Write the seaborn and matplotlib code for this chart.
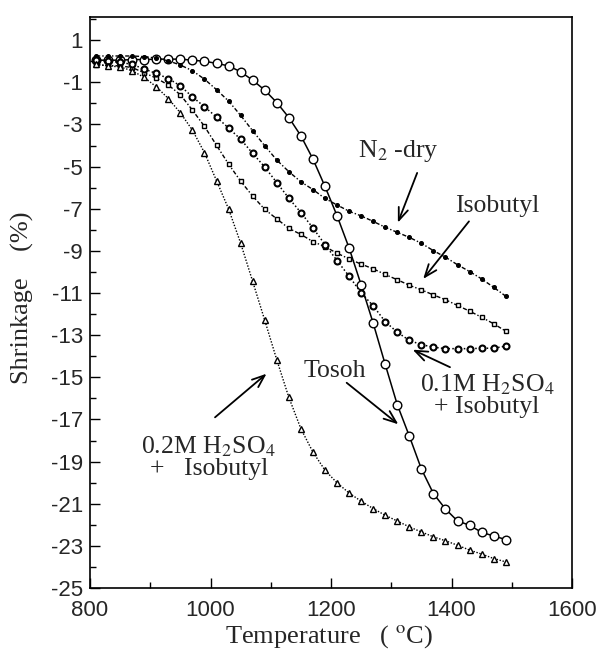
import matplotlib
matplotlib.use("Agg")
import matplotlib.pyplot as plt
import seaborn as sns
import pandas as pd
from matplotlib.ticker import FixedLocator, MultipleLocator

# ---------------- data ----------------
temperature = list(range(810, 1491, 20))

tosoh = [0.05, 0.05, 0.05, 0.08, 0.08, 0.1, 0.1, 0.1, 0.05, 0.0,
         -0.1, -0.22, -0.5, -0.9, -1.37, -1.96, -2.67, -3.54, -4.64, -5.94,
         -7.33, -8.86, -10.61, -12.43, -14.39, -16.30, -17.79, -19.35, -20.52, -21.25,
         -21.82, -22.02, -22.36, -22.53, -22.70]

n2_dry = [0.25, 0.25, 0.25, 0.25, 0.22, 0.15, 0.02, -0.18, -0.45, -0.85,
          -1.35, -1.89, -2.57, -3.30, -4.01, -4.69, -5.24, -5.72, -6.09, -6.51,
          -6.82, -7.12, -7.34, -7.60, -7.88, -8.12, -8.36, -8.64, -8.99, -9.30,
          -9.66, -9.98, -10.33, -10.73, -11.15]

isobutyl = [-0.18, -0.2, -0.22, -0.3, -0.55, -0.8, -1.13, -1.59, -2.32, -3.09,
            -3.99, -4.88, -5.69, -6.40, -7.03, -7.48, -7.93, -8.22, -8.56, -8.80,
            -9.11, -9.38, -9.63, -9.85, -10.12, -10.37, -10.63, -10.85, -11.09, -11.32,
            -11.59, -11.86, -12.15, -12.46, -12.81]

h2so4_01 = [0.05, 0.0, -0.05, -0.15, -0.37, -0.58, -0.82, -1.17, -1.69, -2.16,
            -2.65, -3.17, -3.70, -4.37, -5.02, -5.76, -6.50, -7.18, -7.91, -8.70,
            -9.46, -10.20, -10.99, -11.61, -12.36, -12.86, -13.25, -13.45, -13.57, -13.64,
            -13.64, -13.64, -13.62, -13.62, -13.52]

h2so4_02 = [-0.14, -0.22, -0.27, -0.45, -0.77, -1.21, -1.77, -2.45, -3.27, -4.34,
            -5.67, -7.01, -8.63, -10.45, -12.29, -14.17, -15.95, -17.44, -18.55, -19.41,
            -20.01, -20.49, -20.88, -21.23, -21.55, -21.82, -22.10, -22.34, -22.57, -22.76,
            -22.97, -23.20, -23.39, -23.60, -23.76]

y_major_ticks = list(range(-25, 2, 2))
y_minor_ticks = list(range(-24, 3, 2))
x_major_ticks = [800, 1000, 1200, 1400, 1600]

# ---------------- styling ----------------
sns.set_style("ticks")
plt.rcParams["font.family"] = ["Liberation Sans", "DejaVu Sans"]
plt.rcParams["mathtext.fontset"] = "stix"
SERIF = ["Liberation Serif", "DejaVu Serif"]

fig = plt.figure(figsize=(6.05, 6.54), dpi=100)
ax = fig.add_axes([90 / 605, 1 - 588 / 654, (572 - 90) / 605, (588 - 17) / 654])

series = [
    (tosoh, dict(marker="o", ms=6.2, mfc="white", mec="black", mew=1.0,
                 linestyle="-", lw=1.1)),
    (n2_dry, dict(marker="o", ms=2.8, mfc="black", mec="black", mew=0.8,
                  linestyle=(0, (3, 1.5, 1, 1.5)), lw=1.0)),
    (isobutyl, dict(marker="s", ms=3.3, mfc="white", mec="black", mew=1.0,
                    linestyle=(0, (3, 1.5, 1, 1.5)), lw=1.0)),
    (h2so4_01, dict(marker="o", ms=4.3, mfc="white", mec="black", mew=1.5,
                    linestyle=(0, (1, 1.5)), lw=1.1)),
    (h2so4_02, dict(marker="^", ms=4.5, mfc="white", mec="black", mew=1.0,
                    linestyle=(0, (1, 1.2)), lw=1.0)),
]
for vals, kw in series:
    df = pd.DataFrame({"T": temperature, "S": vals})
    sns.lineplot(data=df, x="T", y="S", ax=ax, color="black", sort=False,
                 estimator=None, **kw)

ax.set_xlim(800, 1600)
ax.set_ylim(-25, 2.1)
ax.xaxis.set_major_locator(FixedLocator(x_major_ticks))
ax.xaxis.set_minor_locator(MultipleLocator(100))
ax.yaxis.set_major_locator(FixedLocator(y_major_ticks))
ax.yaxis.set_minor_locator(FixedLocator(y_minor_ticks))
ax.set_yticklabels([str(v) for v in y_major_ticks])
ax.tick_params(which="both", direction="in", top=False, right=False,
               width=1.0, color="black")
ax.tick_params(which="major", length=7)
ax.tick_params(which="minor", length=4)
ax.tick_params(axis="y", labelsize=16, pad=5)
ax.tick_params(axis="x", labelsize=16, pad=9)
for sp in ax.spines.values():
    sp.set_visible(True)
    sp.set_linewidth(1.2)
    sp.set_color("black")
ax.set_xlabel("")
ax.set_ylabel("")

fig.text(22 / 605, 1 - 298 / 654, "Shrinkage    (%)", rotation=90,
         ha="center", va="center", fontsize=19, family=SERIF)
fig.text(329 / 605, 1 - 637 / 654, "Temperature   ( $^{\\mathrm{o}}$C)",
         ha="center", va="center", fontsize=19, family=SERIF)

# ---------------- annotations ----------------
tfs = 18.5
ax.text(1312, -4.25, "N$_2$ -dry", ha="center", va="center", fontsize=tfs, family=SERIF)
ax.text(1476, -6.86, "Isobutyl", ha="center", va="center", fontsize=tfs, family=SERIF)
ax.text(1207, -14.7, "Tosoh", ha="center", va="center", fontsize=tfs, family=SERIF)
ax.text(1459, -15.85, "0.1M H$_2$SO$_4$\n+ Isobutyl", ha="center", va="center",
        fontsize=tfs, family=SERIF, linespacing=0.95)
ax.text(997, -18.8, "0.2M H$_2$SO$_4$\n+   Isobutyl", ha="center", va="center",
        fontsize=tfs, family=SERIF, linespacing=0.95)

arrows = [
    ((1311, -7.66), (1343, -5.3)),
    ((1353, -10.33), (1429, -7.6)),
    ((1335.6, -13.69), (1397.5, -14.52)),
    ((1311.7, -17.23), (1226, -15.26)),
    ((1093, -14.83), (1007.5, -16.9)),
]
for head, tail in arrows:
    ax.annotate("", xy=head, xytext=tail,
                arrowprops=dict(arrowstyle="->,head_length=0.9,head_width=0.35",
                                lw=1.3, color="black", shrinkA=0, shrinkB=0))

fig.savefig("out.png", dpi=100)
